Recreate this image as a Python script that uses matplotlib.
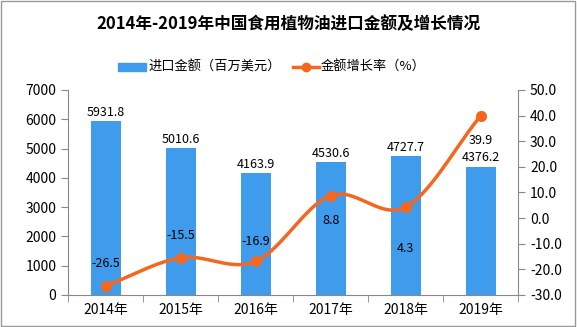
import matplotlib
matplotlib.use('Agg')
import matplotlib.pyplot as plt
import numpy as np
from matplotlib.patches import Rectangle

plt.rcParams['font.family'] = ['Noto Sans CJK SC', 'DejaVu Sans']

# data
years = ['2014年', '2015年', '2016年', '2017年', '2018年', '2019年']
amount = [5931.8, 5010.6, 4163.9, 4530.6, 4727.7, 4376.2]
growth = [-26.5, -15.5, -16.9, 8.8, 4.3, 39.9]

bar_color = '#3F9BEB'
line_color = '#F5661F'
axis_color = '#888888'


def catmull_rom(xs, ys, n=30):
    # smooth curve through the points, like the original chart
    xs = np.asarray(xs, float)
    ys = np.asarray(ys, float)
    px = np.concatenate([[2 * xs[0] - xs[1]], xs, [2 * xs[-1] - xs[-2]]])
    py = np.concatenate([[2 * ys[0] - ys[1]], ys, [2 * ys[-1] - ys[-2]]])
    out_x, out_y = [], []
    for i in range(1, len(px) - 2):
        t = np.linspace(0, 1, n)
        for arr, out in ((px, out_x), (py, out_y)):
            p0, p1, p2, p3 = arr[i - 1], arr[i], arr[i + 1], arr[i + 2]
            out.extend(0.5 * (2 * p1 + (-p0 + p2) * t
                              + (2 * p0 - 5 * p1 + 4 * p2 - p3) * t ** 2
                              + (-p0 + 3 * p1 - 3 * p2 + p3) * t ** 3))
    return np.array(out_x), np.array(out_y)


fig = plt.figure(figsize=(5.77, 3.27), dpi=100)
fig.patches.append(Rectangle((0.002, 0.003), 0.995, 0.994, transform=fig.transFigure,
                             fill=False, edgecolor='#999999', linewidth=1))

ax = fig.add_axes([0.118, 0.098, 0.780, 0.627])
x = np.arange(len(years))
ax.bar(x, amount, width=0.4, color=bar_color, zorder=2)
for xi, v in zip(x, amount):
    ax.text(xi, v + 80, f'{v:.1f}', ha='center', va='bottom', fontsize=9)

ax.set_xlim(-0.5, len(years) - 0.5)
ax.set_ylim(0, 7000)
ax.set_yticks(range(0, 7001, 1000))
ax.set_xticks(x)
ax.set_xticklabels(years, fontsize=10)
ax.set_xticks(np.arange(-0.5, len(years)), minor=True)
ax.tick_params(axis='x', which='major', length=0, pad=6)
ax.tick_params(axis='x', which='minor', length=5, color=axis_color)
ax.tick_params(axis='y', labelsize=10, length=5, color=axis_color)
for side in ('top', 'right'):
    ax.spines[side].set_visible(False)
for side in ('left', 'bottom'):
    ax.spines[side].set_color(axis_color)

ax2 = ax.twinx()
sx, sy = catmull_rom(x, growth)
ax2.plot(sx, sy, color=line_color, linewidth=2.5, zorder=3)
ax2.plot(x, growth, 'o', color=line_color, markersize=7, zorder=4)
ax2.set_ylim(-30, 50)
ax2.set_yticks(range(-30, 51, 10))
ax2.set_yticklabels([f'{v:.1f}' for v in range(-30, 51, 10)])
ax2.tick_params(axis='y', labelsize=10, length=5, color=axis_color)
for side in ('top', 'left', 'bottom'):
    ax2.spines[side].set_visible(False)
ax2.spines['right'].set_color(axis_color)

label_offsets = [16, 16, 14, -18, -30, -18]
for xi, v, off in zip(x, growth, label_offsets):
    ax2.annotate(f'{v}', (xi, v), xytext=(0, off), textcoords='offset points',
                 ha='center', va='center', fontsize=9)

fig.text(0.5, 0.925, '2014年-2019年中国食用植物油进口金额及增长情况',
         ha='center', va='center', fontsize=12, fontweight='bold')

# legend
fig.patches.append(Rectangle((0.205, 0.783), 0.048, 0.025, transform=fig.transFigure,
                             color=bar_color))
fig.text(0.258, 0.795, '进口金额（百万美元）', ha='left', va='center', fontsize=9.5)
fig.lines.append(plt.Line2D([0.508, 0.552], [0.795, 0.795], transform=fig.transFigure,
                            color=line_color, linewidth=2.5))
fig.lines.append(plt.Line2D([0.530], [0.795], transform=fig.transFigure, marker='o',
                            color=line_color, markersize=6))
fig.text(0.555, 0.795, '金额增长率（%）', ha='left', va='center', fontsize=9.5)

plt.savefig('out.png', dpi=100)
